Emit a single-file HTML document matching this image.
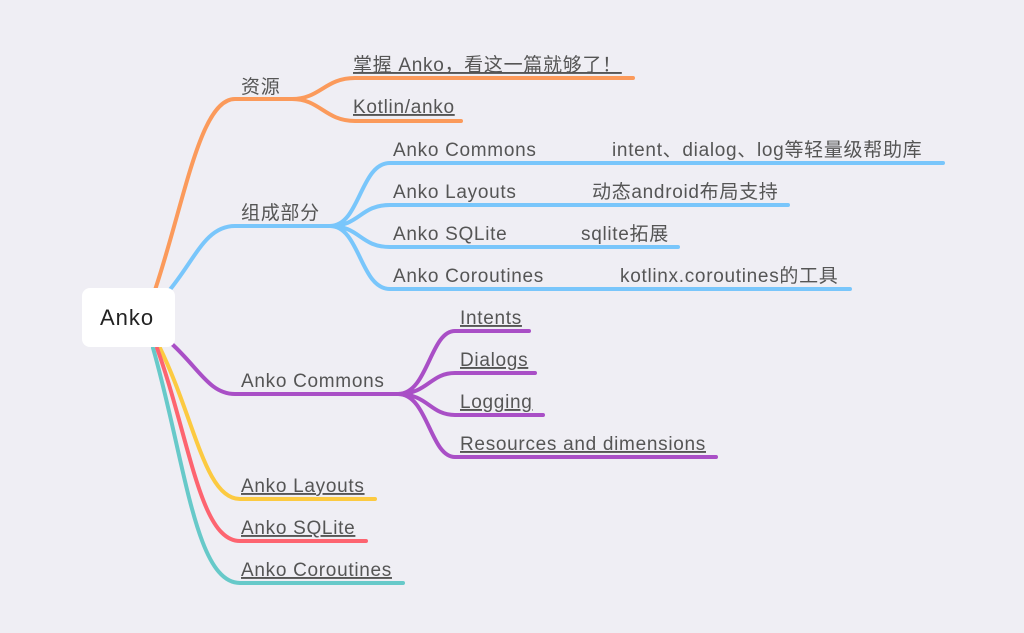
<!DOCTYPE html>
<html><head><meta charset="utf-8"><style>
html,body{margin:0;padding:0;background:#efeef4;}
svg{display:block}
text{font-family:"Liberation Sans","Noto Sans CJK SC",sans-serif;font-size:19px;fill:#555;letter-spacing:0.7px;}
.u{text-decoration:underline;}
</style></head><body>
<svg width="1024" height="633" viewBox="0 0 1024 633" xmlns="http://www.w3.org/2000/svg">
<g fill="none" stroke-linecap="round">
<g stroke="#fb9a5b" stroke-width="4">
<path d="M155 290 C185 200 200 99 235 99 L295 99"/>
<path d="M292 99 C320 99 325 78 355 78 L633 78"/>
<path d="M292 99 C320 99 325 121 355 121 L461 121"/>
</g>
<g stroke="#79c6fb" stroke-width="4">
<path d="M168 292 C195 260 205 226 235 226 L332 226"/>
<path d="M330 226 C360 226 360 163 390 163 L943 163"/>
<path d="M330 226 C360 226 360 205 390 205 L788 205"/>
<path d="M330 226 C360 226 360 247 390 247 L678 247"/>
<path d="M330 226 C360 226 360 289 390 289 L850 289"/>
</g>
<g stroke="#a94fc6" stroke-width="4">
<path d="M172 344 C200 370 210 394 235 394 L400 394"/>
<path d="M398 394 C428 394 430 331 455 331 L529 331"/>
<path d="M398 394 C428 394 430 373 455 373 L535 373"/>
<path d="M398 394 C428 394 430 415 455 415 L543 415"/>
<path d="M398 394 C428 394 430 457 455 457 L716 457"/>
</g>
<path d="M160 348 C195 420 205 499 240 499 L375 499" stroke="#fcca41" stroke-width="4"/>
<path d="M157 348 C190 440 200 541 240 541 L366 541" stroke="#fd6470" stroke-width="4"/>
<path d="M153 348 C185 460 195 583 240 583 L403 583" stroke="#67c9c9" stroke-width="4"/>
</g>
<rect x="82" y="288" width="93" height="59" rx="8" fill="#fff"/>
<text x="100" y="325" style="font-size:22px;fill:#222;letter-spacing:1px">Anko</text>
<text x="241" y="93">资源</text>
<text x="353" y="71" class="u">掌握 Anko，看这一篇就够了！</text>
<text x="353" y="113" class="u">Kotlin/anko</text>
<text x="241" y="219">组成部分</text>
<text x="393" y="156">Anko Commons</text>
<text x="612" y="156">intent、dialog、log等轻量级帮助库</text>
<text x="393" y="198">Anko Layouts</text>
<text x="592" y="198">动态android布局支持</text>
<text x="393" y="240">Anko SQLite</text>
<text x="581" y="240">sqlite拓展</text>
<text x="393" y="282">Anko Coroutines</text>
<text x="620" y="282">kotlinx.coroutines的工具</text>
<text x="241" y="387">Anko Commons</text>
<text x="460" y="324" class="u">Intents</text>
<text x="460" y="366" class="u">Dialogs</text>
<text x="460" y="408" class="u">Logging</text>
<text x="460" y="450" class="u">Resources and dimensions</text>
<text x="241" y="492" class="u">Anko Layouts</text>
<text x="241" y="534" class="u">Anko SQLite</text>
<text x="241" y="576" class="u">Anko Coroutines</text>
</svg>
</body></html>
